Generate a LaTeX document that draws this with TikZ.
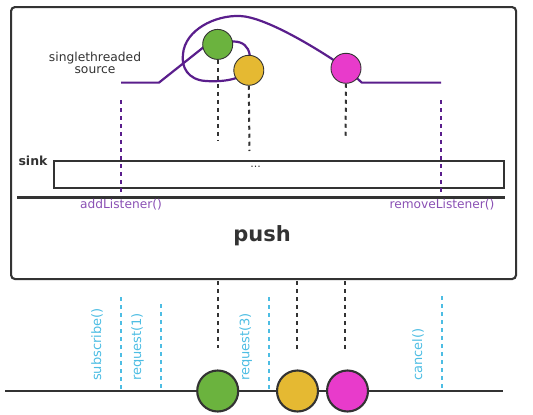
\documentclass[tikz,border=0pt]{standalone}
\usepackage{fontspec}
\setmainfont{DejaVu Sans}
\definecolor{ink}{HTML}{333333}
\definecolor{src}{HTML}{5A1E8C}
\definecolor{lbl}{HTML}{8A50B4}
\definecolor{cy}{HTML}{4DBDE3}
\definecolor{cg}{HTML}{6BB33E}
\definecolor{cyel}{HTML}{E5B932}
\definecolor{cmag}{HTML}{E83BCB}
\begin{document}
\begin{tikzpicture}[x=1pt,y=-1pt,
  ball/.style={circle,draw=ink,line width=0.9pt,minimum size=30pt,inner sep=0pt},
  bigball/.style={circle,draw=ink,line width=2.1pt,minimum size=41pt,inner sep=0pt},
  blkdash/.style={ink,line width=2pt,dash pattern=on 4pt off 4pt},
  purdash/.style={src,line width=2pt,dash pattern=on 4pt off 4pt},
  cydash/.style={cy,line width=2pt,dash pattern=on 4pt off 4pt},
  solidline/.style={ink,line width=2.1pt},
  cylabel/.style={text=cy,font=\fontsize{13}{13}\selectfont,rotate=90,anchor=west,inner sep=0pt},
  purlabel/.style={text=lbl,font=\fontsize{12.2}{12.2}\selectfont,inner sep=0pt}
]
\useasboundingbox (0,0) rectangle (533,415);
% outer box
\node[draw=ink,line width=2.1pt,rounded corners=4pt,minimum width=505pt,minimum height=272pt,anchor=north west,inner sep=0pt] (box) at (10,6) {};
% source path
\coordinate (gc) at (217.7,44.4);
\coordinate (yc) at (248.8,70.3);
\coordinate (mc) at (346,68.3);
\coordinate (s0) at (121,82.6);
\coordinate (s1) at (159,82.6);
\coordinate (s2) at (212,40.5);
\coordinate (e0) at (361.8,82.6);
\coordinate (e1) at (441,82.6);
\draw[src,line width=2.2pt,line join=round]
  (s0) -- (s1) -- (s2)
  (gc) .. controls (243,36) and (254,46) .. (yc)
  .. controls (240,80) and (222,82) .. (206,81)
  .. controls (188,80) and (181,67) .. (183,54)
  .. controls (185,30) and (215,15) .. (240,16)
  .. controls (265,17) and (315,47) .. (mc)
  -- (e0) -- (e1);
% top balls
\node[ball,fill=cg] (g1) at (gc) {};
\node[ball,fill=cyel] (y1) at (yc) {};
\node[ball,fill=cmag] (m1) at (mc) {};
\node[align=center,text=ink,font=\fontsize{12.3}{11.5}\selectfont,inner sep=0pt] (srclbl) at (95,63) {singlethreaded\\source};
% dotted lines from top balls
\coordinate (g1e) at (217.7,140);
\coordinate (y1e) at (249.5,151);
\coordinate (m1e) at (345.5,139);
\draw[blkdash] (g1.south) -- (g1e);
\draw[blkdash] (y1.south) -- (y1e);
\draw[blkdash] (m1.south) -- (m1e);
% sink
\node[draw=ink,line width=2.1pt,minimum width=450pt,minimum height=27pt,anchor=north west,inner sep=0pt] (sink) at (52.7,160) {};
\node[text=ink,font=\bfseries\fontsize{12.5}{12.5}\selectfont,inner sep=0pt] (sinklbl) at (33,161) {sink};
\node[text=ink,font=\fontsize{11}{11}\selectfont,inner sep=0pt] (dots) at (255.5,167) {...};
\coordinate (h0) at (17,197.5);
\coordinate (h1) at (505,197.5);
\draw[solidline] (h0) -- (h1);
% purple dashed
\coordinate (pa0) at (121,100);
\coordinate (pa1) at (121,192);
\coordinate (pb0) at (441,100);
\coordinate (pb1) at (441,195);
\draw[purdash] (pa0) -- (pa1);
\draw[purdash] (pb0) -- (pb1);
\node[purlabel] (addl) at (121,204.5) {addListener()};
\node[purlabel] (reml) at (442,204.5) {removeListener()};
\node[text=ink,font=\bfseries\fontsize{21}{21}\selectfont,inner sep=0pt] (push) at (262,236) {push};
% bottom timeline
\coordinate (t0) at (5,391);
\coordinate (t1) at (503,391);
\draw[solidline] (t0) -- (t1);
% black dashed to bottom balls
\coordinate (bg0) at (217.7,281);
\coordinate (bg1) at (217.7,348);
\coordinate (by0) at (297,281);
\coordinate (by1) at (297,350);
\coordinate (bm0) at (345,281);
\coordinate (bm1) at (345,349);
\draw[blkdash] (bg0) -- (bg1);
\draw[blkdash] (by0) -- (by1);
\draw[blkdash] (bm0) -- (bm1);
% cyan dashed
\coordinate (c10) at (121,297);
\coordinate (c11) at (121,389);
\coordinate (c20) at (161,304);
\coordinate (c21) at (161,389);
\coordinate (c30) at (269,297);
\coordinate (c31) at (269,389);
\coordinate (c40) at (442,296);
\coordinate (c41) at (442,389);
\draw[cydash] (c10) -- (c11);
\draw[cydash] (c20) -- (c21);
\draw[cydash] (c30) -- (c31);
\draw[cydash] (c40) -- (c41);
\node[cylabel] (subl) at (97,381) {subscribe()};
\node[cylabel] (r1l) at (137.5,381) {request(1)};
\node[cylabel] (r3l) at (245.7,381) {request(3)};
\node[cylabel] (canl) at (418,381) {cancel()};
% bottom balls
\node[bigball,fill=cg] (g2) at (217.7,391) {};
\node[bigball,fill=cyel] (y2) at (297.5,391) {};
\node[bigball,fill=cmag] (m2) at (347.5,391) {};
\end{tikzpicture}
\end{document}
